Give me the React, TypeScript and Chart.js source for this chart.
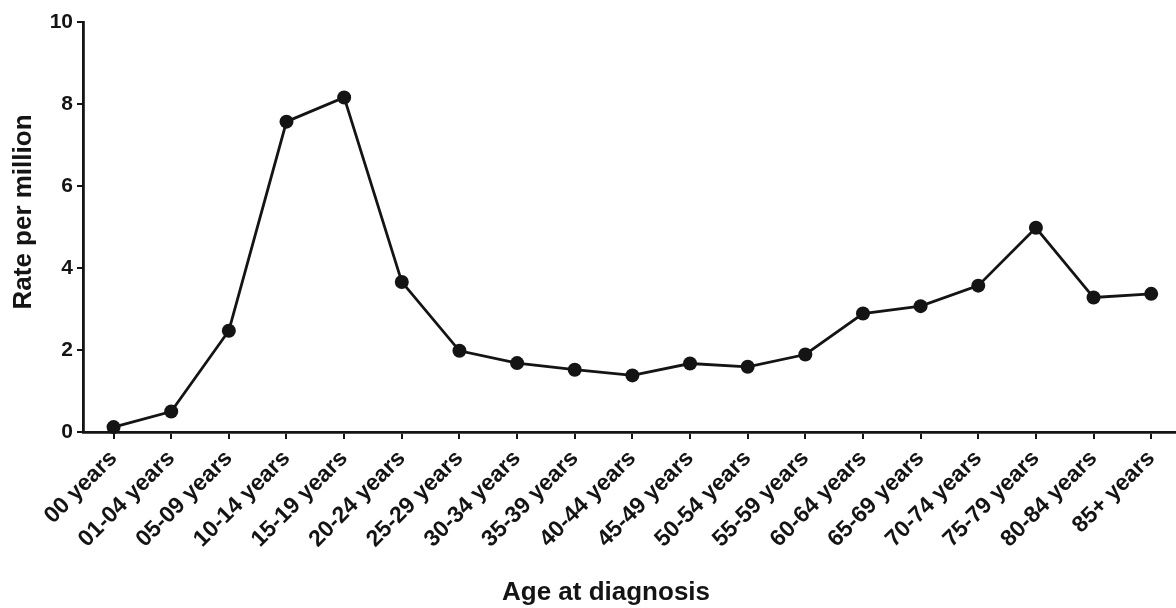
import React, { useEffect, useRef } from "react";
import { Chart, registerables } from "chart.js";

Chart.register(...registerables);

const categories = [
  "00 years", "01-04 years", "05-09 years", "10-14 years", "15-19 years",
  "20-24 years", "25-29 years", "30-34 years", "35-39 years", "40-44 years",
  "45-49 years", "50-54 years", "55-59 years", "60-64 years", "65-69 years",
  "70-74 years", "75-79 years", "80-84 years", "85+ years",
];
const rates = [
  0.12, 0.5, 2.47, 7.57, 8.16, 3.66, 1.98, 1.68, 1.52, 1.38,
  1.67, 1.59, 1.89, 2.89, 3.07, 3.57, 4.98, 3.28, 3.37,
];
const yTicks = [0, 2, 4, 6, 8, 10];
const xTitle = "Age at diagnosis";
const yTitle = "Rate per million";

const FONT = "'Liberation Sans', Arial, sans-serif";
const INK = "#141414";

const axisTitles = {
  id: "axisTitles",
  afterDraw(chart: any) {
    const ctx = chart.ctx;
    ctx.save();
    ctx.fillStyle = INK;
    ctx.font = `bold 26px ${FONT}`;
    ctx.textAlign = "center";
    ctx.textBaseline = "alphabetic";
    ctx.fillText(xTitle, 606, 600);
    ctx.translate(31, 212);
    ctx.rotate(-Math.PI / 2);
    ctx.fillText(yTitle, 0, 0);
    ctx.restore();
  },
};

export default function App() {
  const ref = useRef<HTMLCanvasElement | null>(null);

  useEffect(() => {
    document.body.style.margin = "0";
    const canvas = ref.current;
    if (!canvas) return;
    const chart = new Chart(canvas, {
      type: "line",
      data: {
        datasets: [
          {
            data: rates.map((v, i) => ({ x: i, y: v })),
            borderColor: INK,
            backgroundColor: INK,
            borderWidth: 2.8,
            pointRadius: 7,
            pointBackgroundColor: INK,
            pointBorderColor: INK,
            pointBorderWidth: 0,
            tension: 0,
            clip: false,
          },
        ],
      },
      plugins: [axisTitles],
      options: {
        animation: false,
        responsive: false,
        maintainAspectRatio: false,
        layout: {
          autoPadding: false,
          padding: { top: 22, right: 0, left: 0, bottom: 0 },
        },
        plugins: {
          legend: { display: false },
          tooltip: { enabled: false },
        },
        scales: {
          x: {
            type: "linear",
            min: -0.53,
            max: 18.43,
            afterBuildTicks: (scale: any) => {
              scale.ticks = categories.map((_, i) => ({ value: i }));
            },
            afterFit: (scale: any) => {
              scale.height = 176;
              scale.paddingRight = 0;
              scale.paddingLeft = 0;
            },
            border: { display: true, color: INK, width: 2.8 },
            grid: {
              drawOnChartArea: false,
              drawTicks: true,
              tickLength: 7,
              color: INK,
              lineWidth: 2,
            },
            ticks: {
              autoSkip: false,
              maxRotation: 45,
              minRotation: 45,
              padding: 6,
              color: INK,
              font: { family: FONT, size: 23, weight: "bold" },
              callback: (v: any) => categories[Math.round(Number(v))] ?? "",
            },
            title: { display: false },
          },
          y: {
            type: "linear",
            min: 0,
            max: 10,
            afterBuildTicks: (scale: any) => {
              scale.ticks = yTicks.map((v) => ({ value: v }));
            },
            afterFit: (scale: any) => {
              scale.width = 83;
            },
            border: { display: true, color: INK, width: 2.8 },
            grid: {
              drawOnChartArea: false,
              drawTicks: true,
              tickLength: 6,
              color: INK,
              lineWidth: 2,
            },
            ticks: {
              padding: 4,
              color: INK,
              font: { family: FONT, size: 21, weight: "bold" },
            },
            title: { display: false },
          },
        },
      },
    });
    return () => chart.destroy();
  }, []);

  return (
    <div style={{ width: 1176, height: 608 }}>
      <canvas ref={ref} width={1176} height={608} style={{ display: "block" }} />
    </div>
  );
}
